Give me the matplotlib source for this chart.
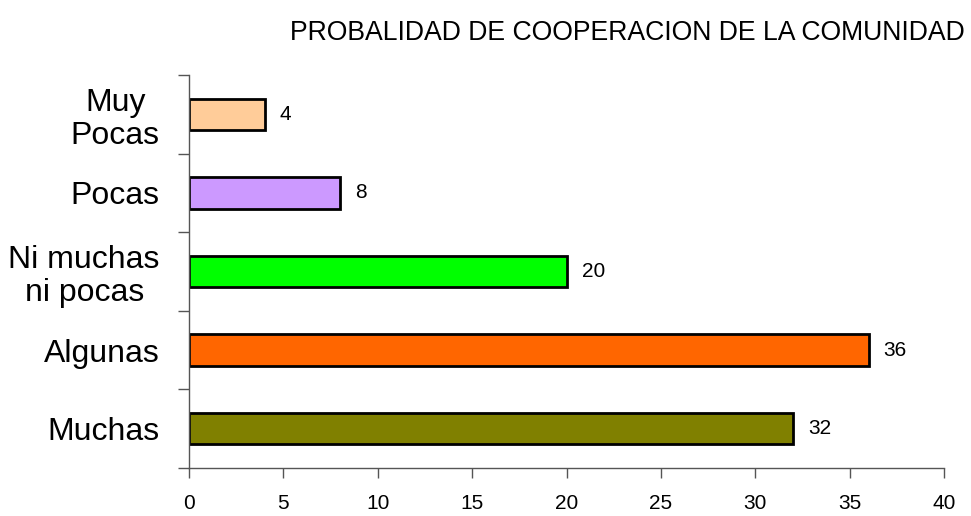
import matplotlib
matplotlib.use("Agg")
import matplotlib.pyplot as plt

categories = ["Muchas", "Algunas", "Ni muchas\nni pocas", "Pocas", "Muy\nPocas"]
values = [32, 36, 20, 8, 4]
colors = ["#808000", "#FF6600", "#00FF00", "#CC99FF", "#FFCC99"]
title = "PROBALIDAD DE COOPERACION DE LA COMUNIDAD"
xticks = [0, 5, 10, 15, 20, 25, 30, 35, 40]

plt.rcParams['font.family'] = ['Liberation Sans', 'DejaVu Sans']

fig = plt.figure(figsize=(9.71, 5.16), dpi=100)
ax = fig.add_axes([189/971, 1-468/516, (944-189)/971, (468-75)/516])

y = list(range(len(categories)))
ax.barh(y, values, height=0.4, color=colors, edgecolor="black", linewidth=2)
for yi, v in zip(y, values):
    ax.text(v + 0.8, yi, str(v), va="center", ha="left", fontsize=15)

ax.set_xlim(0, 40)
ax.set_ylim(-0.5, len(categories) - 0.5)
ax.set_xticks(xticks)
ax.set_xticklabels([str(t) for t in xticks], fontsize=15)
ax.set_yticks([i - 0.5 for i in range(len(categories) + 1)], minor=False)
ax.set_yticklabels([])
ax.set_yticks(y, minor=True)
ax.set_yticklabels(categories, minor=True, fontsize=23, linespacing=1.15,
                   multialignment="center")
ax.tick_params(axis="y", which="minor", length=0, pad=21)
ax.tick_params(axis="y", which="major", length=8, color="#555555", width=1)
ax.tick_params(axis="x", length=7, color="#555555", width=1, pad=12)
for s in ["top", "right"]:
    ax.spines[s].set_visible(False)
for s in ["left", "bottom"]:
    ax.spines[s].set_color("#555555")
    ax.spines[s].set_linewidth(1)

fig.text(627/971, 1-33/516, title, ha="center", va="center", fontsize=19.2)

fig.savefig("out.png", dpi=100)
